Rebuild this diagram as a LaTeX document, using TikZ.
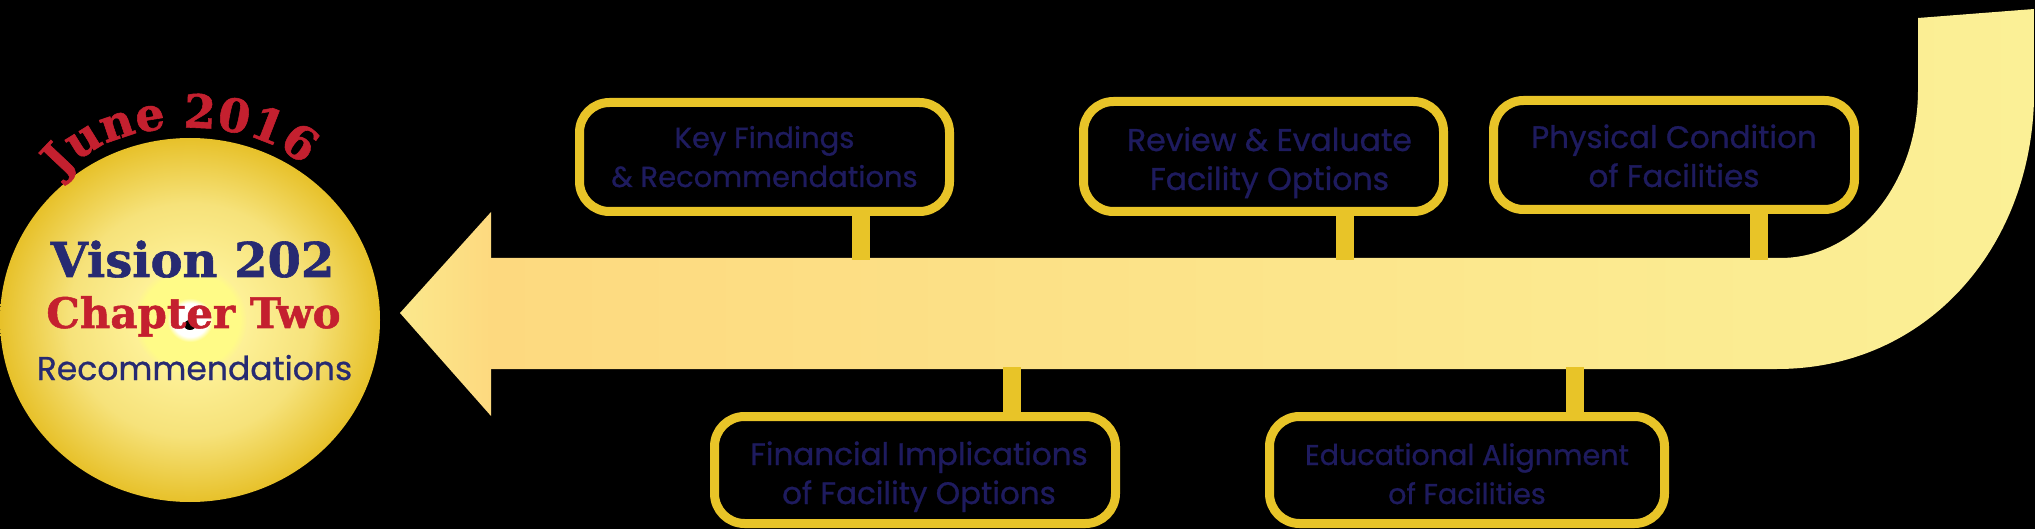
\documentclass[tikz,border=0pt]{standalone}
\usepackage{fontspec}
\usepackage{tikz}
\usetikzlibrary{calc, shapes.geometric, decorations.text}
\newfontfamily\boxfont{Poppins}[FakeBold=0.9]
\newfontfamily\subfont{Poppins}[FakeBold=0.7]
\newfontfamily\titlefont{DejaVu Serif Bold}[FakeBold=1.2]
\definecolor{boxline}{HTML}{E8C428}
\definecolor{boxtext}{HTML}{1E1B5E}
\definecolor{titlenavy}{HTML}{272A72}
\definecolor{titlered}{HTML}{C4202F}
\definecolor{shaftleft}{HTML}{FDD97F}
\definecolor{shaftmid}{HTML}{FDE388}
\definecolor{shaftright}{HTML}{FBF096}
\definecolor{tipcolor}{HTML}{FBE88C}
\definecolor{halo}{HTML}{FFFB87}
\definecolor{haloedge}{HTML}{FDF096}
\definecolor{discmid}{HTML}{F6E27A}
\definecolor{discrim}{HTML}{E7C12A}
\pgfdeclareradialshading{discshade}{\pgfpointorigin}{color(0bp)=(white); color(2.3bp)=(white); color(3bp)=(halo); color(6.5bp)=(halo); color(7.5bp)=(haloedge); color(16bp)=(discmid); color(25bp)=(discrim); color(50bp)=(discrim)}
\newcommand{\factpair}[4][0]{\hspace*{#1pt}\rule{0pt}{#2pt}#3\\\hspace*{#1pt}#4\rule[-12pt]{0pt}{12pt}}
\tikzset{
    fact/.style={draw=boxline, line width=9pt, rounded corners=30pt, inner sep=0pt, align=center, text=boxtext, font=\boxfont\fontsize{#1}{39}\selectfont},
    fact/.default=29,
    post/.style={draw=boxline, line width=18pt}
}
\begin{document}
\begin{tikzpicture}[x=1pt, y=-1pt]
            \useasboundingbox (0,0) rectangle (2035,529);
            \fill[black] (0,0) rectangle (2035,529);
            \path[shade, left color=tipcolor, right color=shaftleft] (400,313) -- (491,212) -- (491,416) -- cycle;
            \path[shade, left color=shaftleft, middle color=shaftmid, right color=shaftright] (491,258) -- (1780,258) .. controls (1860,258) and (1918,180) .. (1918,90) -- (1918,18) -- (2034,9) -- (2034,100) .. controls (2030,250) and (1925,369) .. (1777,369) -- (491,369) -- cycle;
            \node[ellipse, shading=discshade, minimum width=380pt, minimum height=364pt, inner sep=0pt] (disc) at (190,320) {};
            \fill[black] (190,325) ellipse (6 and 5);
            \node[fact, minimum width=370pt, minimum height=109pt] (findings) at (764.5,157) {\factpair{33}{Key Findings}{\& Recommendations}};
            \node[fact=31.5, minimum width=360pt, minimum height=110pt] (options) at (1263.5,156.5) {\factpair[12]{40}{Review \& Evaluate}{Facility Options}};
            \node[fact=31, minimum width=361pt, minimum height=109pt] (condition) at (1674,155) {\factpair{37}{Physical Condition}{of Facilities}};
            \node[fact=31, minimum width=401pt, minimum height=107pt] (financial) at (915,470) {\factpair[8]{41}{Financial Implications}{of Facility Options}};
            \node[fact=28.6, minimum width=395pt, minimum height=107pt] (alignment) at (1467,470) {\factpair{41}{Educational Alignment}{of Facilities}};
            \coordinate (p1) at (861,260);
            \coordinate (p2) at (1345,260);
            \coordinate (p3) at (1759,260);
            \coordinate (p4) at (1012,367);
            \coordinate (p5) at (1575,367);
            \draw[post] (findings.south -| p1) -- (p1);
            \draw[post] (options.south -| p2) -- (p2);
            \draw[post] (condition.south -| p3) -- (p3);
            \draw[post] (financial.north -| p4) -- (p4);
            \draw[post] (alignment.north -| p5) -- (p5);
            \node[anchor=base, text=titlenavy, font=\titlefont\fontsize{48}{48}\selectfont] (vision) at (192.5,277) {Vision 202};
            \node[anchor=base, text=titlered, font=\titlefont\fontsize{42}{42}\selectfont] (chapter) at (193.5,328) {Chapter Two};
            \node[anchor=base, text=titlenavy, font=\subfont\fontsize{33}{33}\selectfont] (recomm) at (194.5,380) {Recommendations};
            \path[decorate, decoration={text along path, text align={fit to path}, text={|\titlefont\fontsize{46}{46}\selectfont\color{titlered}|June 2016}}] (62,178) .. controls (110,113) and (250,113) .. (303,166);
        \end{tikzpicture}
\end{document}
